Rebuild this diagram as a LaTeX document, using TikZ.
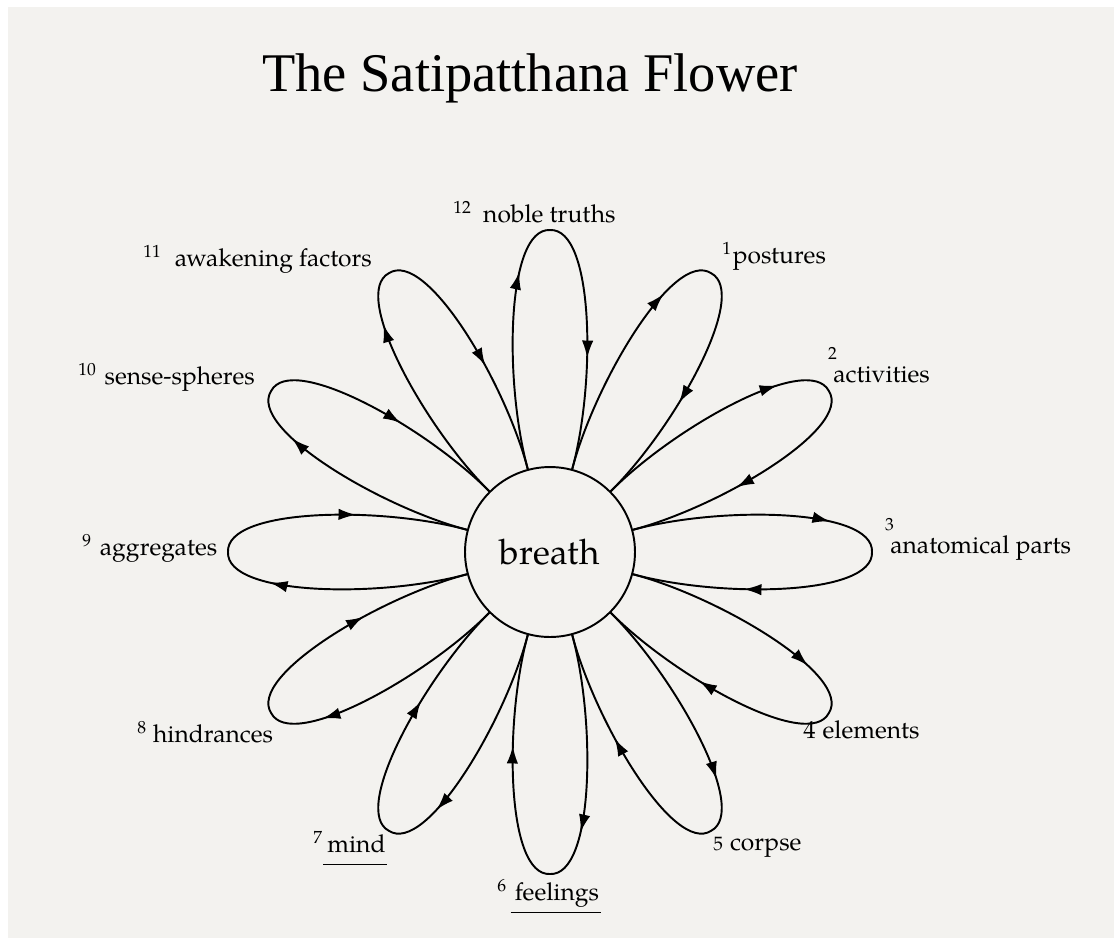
\documentclass[tikz,border=0pt]{standalone}
\usepackage{fontspec}
\usetikzlibrary{arrows.meta,decorations.markings}
\newfontfamily\titlefont{Liberation Serif}
\newfontfamily\palfont{TeX Gyre Pagella}
\newcommand\petalno[1]{\raisebox{5pt}{\fontsize{10}{10}\selectfont #1}}
\newcommand\stackno[1]{\makebox[0pt][l]{\hspace{-3pt}\raisebox{13pt}{\fontsize{10}{10}\selectfont #1}}}
\newcommand\underword[1]{\setbox0\hbox{#1}\rlap{\hspace{-2.5pt}\rule[-7.5pt]{\dimexpr\wd0+3.5pt\relax}{0.9pt}}\box0}
\definecolor{paper}{RGB}{243,242,239}
\tikzset{
  petal/.style={line width=1.1pt, postaction={decorate},
    decoration={markings,
      mark=at position 0.39 with {\arrow{Latex[length=10pt,width=6.5pt]}},
      mark=at position 0.78 with {\arrow{Latex[length=10pt,width=6.5pt]}}}},
  lbl/.style={anchor=base west, inner sep=0pt, font=\palfont\fontsize{14}{17}\selectfont}
}

\begin{document}
\begin{tikzpicture}[x=0.02cm, y=0.02cm]
        % ==== PAPER ====
        \fill[white] (-550,-386) rectangle (564,552);
        \fill[paper] (-542,-386) rectangle (564,545);
        \useasboundingbox (-550,-386) rectangle (564,552);
        % ==== TITLE ====
        \node[anchor=base, font=\titlefont\fontsize{31}{36}\selectfont] (title) at (-20,461) {The Satipatthana Flower};
        % ==== BREATH ====
        \node[circle, draw, line width=1.1pt, minimum size=3.4cm, inner sep=0pt,
              font=\palfont\fontsize{20}{24}\selectfont] (breath) at (0,0) {breath};
        % ==== PETALS ====
        \foreach \a [evaluate=\a as \al using int(\a+15), evaluate=\a as \ar using int(\a-15)] in {0,30,...,330}{
            \draw[petal, rotate=\a] (breath.\al) .. controls (170,46) and (324,44) .. (322,0)
                .. controls (324,-44) and (170,-46) .. (breath.\ar);
        }
        % ==== LABELS ====
        \node[lbl] (l12) at (-97,330) {\petalno{12}\hspace{7pt}noble truths};
        \node[lbl] (l1) at (172,289) {\petalno{1}\hspace{1pt}postures};
        \node[lbl] (l2) at (283,170) {\stackno{2}activities};
        \node[lbl] (l3) at (340,-1) {\stackno{3}anatomical parts};
        \node[lbl] (l4) at (253,-186) {4\hspace{4pt}elements};
        \node[lbl] (l5) at (163,-298) {{\fontsize{11}{11}\selectfont 5}\hspace{4pt}corpse};
        \node[lbl] (l6) at (-53,-348) {\petalno{6}\hspace{5pt}\underword{feelings}};
        \node[lbl] (l7) at (-237,-300) {\petalno{7}\hspace{3pt}\underword{mind}};
        \node[lbl] (l8) at (-413,-190) {\petalno{8}\hspace{4pt}hindrances};
        \node[lbl] (l9) at (-468,-3) {\petalno{9}\hspace{5pt}aggregates};
        \node[lbl] (l10) at (-472,168) {\petalno{10}\hspace{5pt}sense-spheres};
        \node[lbl] (l11) at (-407,286) {\petalno{11}\hspace{8pt}awakening factors};
\end{tikzpicture}
\end{document}
